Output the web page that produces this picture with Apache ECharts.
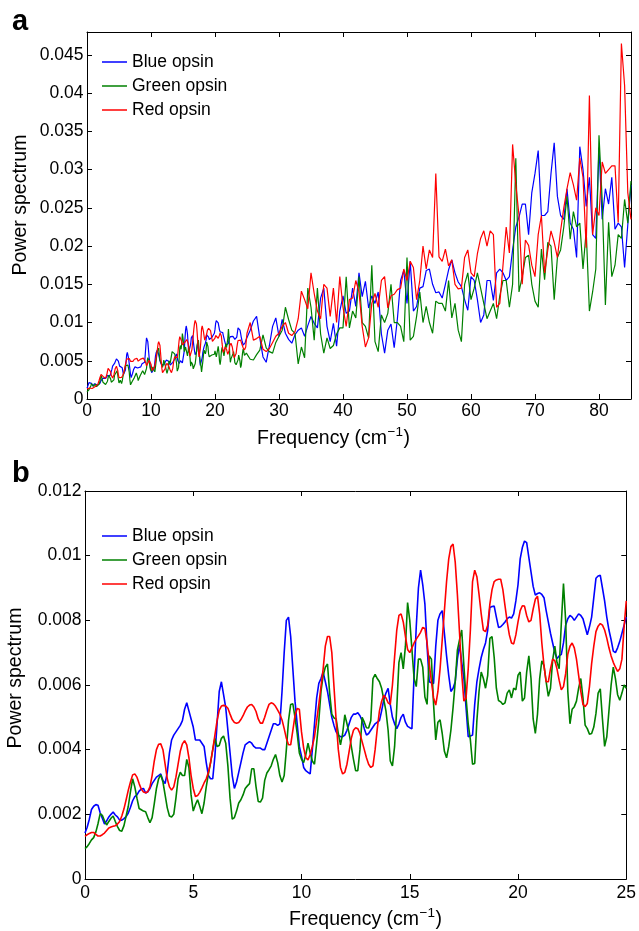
<!DOCTYPE html>
<html><head><meta charset="utf-8">
<script src="https://cdn.jsdelivr.net/npm/echarts@6/dist/echarts.min.js"></script>
<style>html,body{margin:0;padding:0;background:#fff}#c{width:639px;height:931px}</style>
</head><body><div id="c"></div>
<script>
// ---- Panel b data: power spectrum in units of 1e-3, frequency 0..25 cm^-1 sampled every 0.1
const bFreqStart = 0, bFreqStep = 0.1;
const bBlue = [
1.42,1.6,1.85,2.15,2.25,2.3,2.28,2.05,1.88,1.7,
1.8,1.92,2.0,2.07,1.98,1.92,1.82,1.82,1.87,1.93,
2.04,2.22,2.42,2.55,2.6,2.72,2.78,2.8,2.66,2.7,
2.8,2.95,3.05,3.15,3.2,3.25,3.05,2.95,3.3,3.9,
4.3,4.45,4.55,4.65,4.75,4.9,5.25,5.45,5.2,4.95,
4.7,4.3,4.3,4.3,4.2,4.1,3.6,3.2,3.1,3.1,
3.8,4.8,5.8,6.1,5.7,5.3,4.6,3.9,3.2,2.8,
3.0,3.3,3.6,3.9,4.15,4.2,4.25,4.2,4.1,4.05,
4.05,4.05,4.0,4.0,4.2,4.4,4.6,4.8,4.8,4.75,
4.8,5.8,7.0,8.0,8.1,7.5,6.5,5.5,4.8,4.1,
3.8,3.45,3.35,3.3,3.25,4.0,4.8,5.6,6.05,6.2,
6.4,6.1,5.8,5.4,5.0,4.75,4.55,4.45,4.4,4.4,
4.45,4.6,4.8,5.0,5.1,5.1,5.14,5.05,4.9,4.65,
4.45,4.5,4.6,4.7,4.8,4.85,4.9,5.2,5.55,5.75,
5.9,5.4,5.0,4.8,4.65,4.8,5.0,5.1,4.85,4.72,
4.68,4.65,6.3,7.8,9.0,9.55,9.1,8.5,7.2,6.1,
6.07,6.05,7.2,8.0,8.2,8.3,7.6,6.9,6.3,5.8,
5.9,6.1,6.8,7.25,6.7,6.2,5.3,4.4,4.42,4.45,
5.4,6.1,6.5,6.85,7.1,7.3,7.7,8.4,8.43,8.44,
8.1,7.78,7.8,7.87,7.95,8.05,8.1,8.07,8.2,8.6,
9.1,9.9,10.25,10.45,10.4,9.95,9.5,9.05,8.78,8.83,
8.85,8.8,8.7,8.3,7.95,7.6,7.3,7.0,6.82,6.9,
6.95,7.3,7.85,8.05,8.15,8.1,8.0,8.1,8.2,8.15,
8.05,7.8,7.55,7.8,8.1,8.7,9.3,9.37,9.39,9.0,
8.6,8.1,7.7,7.4,7.05,7.0,7.15,7.35,7.6,7.85,
8.1];
const bGreen = [
0.94,1.0,1.1,1.21,1.28,1.45,1.71,2.02,1.97,1.8,
1.67,1.78,1.88,1.95,1.78,1.62,1.5,1.48,1.65,1.95,
2.25,2.7,3.1,2.85,2.5,2.18,2.14,2.1,2.08,1.9,
1.74,1.9,2.33,2.8,3.1,3.22,3.0,2.6,2.2,1.95,
1.92,2.0,2.5,3.1,3.3,3.2,3.2,3.7,3.45,2.6,
2.1,2.3,2.45,2.25,2.02,2.35,2.85,3.25,3.6,4.0,
4.35,4.1,4.13,4.35,4.42,4.2,3.5,2.5,1.85,1.9,
2.1,2.35,2.45,2.6,2.8,2.88,2.95,3.41,3.41,2.85,
2.4,2.38,2.5,3.05,3.28,3.38,3.5,3.7,3.85,3.6,
3.2,3.0,3.2,4.0,4.9,5.4,5.42,5.0,4.5,3.9,
3.7,3.6,3.85,4.2,3.9,3.65,3.55,4.2,4.9,5.8,
6.3,6.55,6.65,5.75,5.1,4.98,4.95,4.5,4.15,4.5,
5.08,4.8,4.5,4.1,3.7,3.35,3.35,4.0,5.0,4.85,
4.68,4.67,4.9,6.2,6.33,6.2,6.1,5.9,5.55,5.2,
4.6,3.65,3.5,4.1,5.3,6.7,7.0,6.5,7.2,8.55,
8.0,7.1,6.2,5.95,6.8,6.8,6.55,5.63,5.4,6.9,
6.8,5.4,4.3,4.85,4.92,4.5,3.95,3.75,4.1,4.6,
5.3,6.1,7.08,7.4,7.7,6.6,5.6,4.8,4.3,3.55,
3.57,4.9,5.8,6.4,6.2,5.9,6.3,7.44,7.5,6.85,
5.9,5.52,5.48,5.4,5.45,5.75,5.85,5.6,5.9,5.85,
6.3,6.4,5.5,5.6,6.4,6.9,6.2,4.95,4.5,5.1,
6.2,6.75,6.6,6.1,5.65,5.9,6.77,7.2,6.7,6.5,
7.9,9.14,8.0,5.8,4.8,5.25,5.33,5.5,5.9,6.2,
5.6,4.76,4.65,4.48,4.5,4.7,5.12,5.75,5.88,4.95,
4.1,4.4,5.2,6.0,6.55,6.2,5.7,5.53,5.75,6.0,
5.9];
const bRed = [
1.32,1.37,1.41,1.44,1.44,1.38,1.33,1.33,1.37,1.42,
1.5,1.58,1.61,1.63,1.65,1.7,1.78,1.95,2.17,2.45,
2.75,3.0,3.22,3.25,3.15,2.95,2.78,2.69,2.67,2.7,
2.85,3.2,3.65,4.0,4.17,4.18,4.0,3.55,3.1,2.85,
2.75,2.85,3.15,3.55,3.95,4.18,4.28,4.15,3.75,3.2,
2.8,2.55,2.58,2.68,2.82,2.97,3.1,3.3,3.6,4.0,
4.45,4.9,5.22,5.35,5.37,5.35,5.28,5.1,4.93,4.84,
4.82,4.84,4.93,5.05,5.2,5.32,5.38,5.4,5.32,5.18,
4.95,4.82,4.82,5.0,5.22,5.4,5.45,5.42,5.34,5.22,
5.1,4.92,4.65,4.35,4.15,4.15,4.6,5.05,5.27,5.25,
4.55,4.05,3.75,3.68,3.85,4.1,4.4,4.9,5.4,5.95,
6.5,7.2,7.5,7.5,7.0,5.95,4.9,4.0,3.45,3.25,
3.3,3.55,3.95,4.35,4.6,4.68,4.65,4.5,4.25,4.0,
3.75,3.55,3.45,3.5,4.0,4.65,5.2,5.5,5.68,5.6,
5.45,5.4,6.0,6.87,7.7,8.15,8.2,7.95,7.5,7.1,
7.0,7.15,7.3,7.42,7.52,7.63,7.78,7.75,7.3,6.66,
6.1,5.6,5.38,5.8,6.5,7.4,8.3,9.2,9.9,10.28,
10.36,9.8,8.8,7.6,6.35,5.5,5.6,6.5,7.7,9.2,
9.55,9.35,8.8,8.2,7.7,7.65,7.85,8.5,8.95,9.2,
9.25,9.27,9.27,8.95,8.45,7.95,7.55,7.3,7.27,7.55,
7.95,8.3,8.45,8.44,8.15,7.95,8.0,8.35,8.65,8.75,
8.2,7.3,6.6,6.1,6.1,6.5,6.8,6.75,6.5,6.15,
5.85,5.95,6.35,6.95,7.2,7.3,7.15,6.8,6.3,5.8,
5.4,5.33,5.43,5.95,6.66,7.2,7.65,7.82,7.9,7.85,
7.7,7.45,7.15,6.9,6.7,6.55,6.42,6.5,6.8,7.8,
8.6];

// ---- Panel a: same spectra, continued from 25.5 to 85 cm^-1 every 0.5 (units of 1e-3)
const aHighStart = 25.5, aHighStep = 0.5;
const aBlueHigh = [
9.0,10.2,10.8,8.0,5.5,4.8,7.0,9.5,10.6,
8.2,10.4,8.6,7.8,7.3,8.4,9.0,9.3,8.2,9.6,
10.8,9.9,9.3,13.2,14.5,9.5,7.5,9.9,6.9,11.5,
13.5,11.2,11.5,14.5,12.1,16.5,13.4,15.4,11.9,13.5,
12.5,14.0,8.5,6.0,9.0,9.8,6.7,10.5,15.5,16.8,
12.5,18.0,11.5,12.1,14.5,14.7,16.8,17.0,15.0,13.9,
14.0,13.2,15.0,16.9,18.2,16.5,15.3,14.7,13.0,11.6,
16.0,15.5,13.0,10.0,11.0,15.5,15.5,12.9,16.5,17.0,
16.5,15.5,16.0,19.5,22.5,23.8,25.5,25.5,21.5,27.0,
29.5,32.5,24.0,24.0,24.5,29.5,33.5,26.5,24.0,23.5,
27.5,23.0,22.2,18.5,33.0,30.0,25.2,29.0,21.5,21.0,
32.9,23.5,27.5,25.5,29.0,22.2,23.0,22.5,17.2,22.8,28.0];
const aGreenHigh = [
5.2,5.1,5.8,6.4,8.4,6.7,6.2,6.0,7.4,
8.2,9.0,12.0,10.4,9.0,8.6,4.6,6.8,5.4,14.5,
12.0,7.7,14.5,8.5,6.0,8.0,6.6,7.0,8.5,9.3,
9.3,16.0,9.3,11.5,10.6,16.0,10.0,9.5,8.0,17.5,
7.5,6.2,11.0,10.0,11.2,15.0,10.0,10.0,9.5,7.5,
18.5,7.7,8.2,10.8,14.0,10.0,12.1,10.0,8.6,12.8,
12.5,12.5,11.5,15.5,10.6,12.5,9.0,7.5,15.0,16.5,
13.0,14.5,16.5,14.5,12.5,10.5,11.5,12.5,10.5,13.5,
15.5,15.5,12.0,15.0,31.5,14.0,16.0,18.5,18.8,15.0,
12.8,12.0,19.6,15.6,20.5,20.0,13.0,18.5,19.5,22.5,
26.5,20.9,24.5,22.5,23.0,17.0,22.0,11.5,14.0,17.0,
34.5,26.0,12.3,23.1,16.0,17.5,21.5,21.0,26.1,23.0,28.5];
const aRedHigh = [
10.0,7.7,7.9,8.2,6.5,6.2,6.6,7.4,8.2,
8.6,9.5,10.0,8.6,8.3,8.8,10.5,14.1,13.0,11.8,
16.5,13.8,11.5,10.5,15.0,14.5,10.8,14.5,10.0,16.0,
12.0,9.5,13.0,13.2,15.5,14.0,9.5,6.8,8.0,12.5,
13.8,12.0,15.5,16.0,11.9,13.5,13.7,14.3,14.5,17.0,
15.5,18.0,17.2,13.0,15.5,20.0,17.0,19.5,18.5,29.5,
18.6,18.0,19.6,17.4,18.2,15.0,14.4,14.5,18.5,19.5,
16.5,16.0,19.0,21.0,22.0,20.0,22.0,21.5,12.0,12.5,
17.5,22.5,19.1,33.3,28.1,24.0,15.0,20.8,20.1,17.5,
16.0,21.5,24.0,16.5,19.5,22.0,20.5,18.5,22.0,25.0,
27.5,29.6,28.0,26.0,31.5,29.0,19.8,39.7,21.5,25.0,
24.0,31.0,29.5,30.0,30.5,30.5,23.1,46.5,41.0,27.0,23.5];

const seriesNames = ['Blue opsin', 'Green opsin', 'Red opsin'];
const seriesColors = ['#0000ff', '#008000', '#ff0000'];
const aXTicks = {min: 0, max: 85, interval: 10};
const aYTicks = {min: 0, max: 0.048, interval: 0.005};
const bXTicks = {min: 0, max: 25, interval: 5};
const bYTicks = {min: 0, max: 0.012, interval: 0.002};
const xTitleMain = 'Frequency (cm', xTitleSup = '\u22121', xTitleEnd = ')';
const yTitle = 'Power spectrum';
const UNIT = 1e-3;

function pairs(start, step, vals) {
  return vals.map((v, i) => [Math.round((start + i * step) * 100) / 100, v * UNIT]);
}
const bData = [bBlue, bGreen, bRed].map(a => pairs(bFreqStart, bFreqStep, a));
const aData = [aBlueHigh, aGreenHigh, aRedHigh].map((a, k) => bData[k].concat(pairs(aHighStart, aHighStep, a)));

const FONT = "'Liberation Sans', Arial, Helvetica, sans-serif";
const black = '#000';
const TITLE_FS = 19.5, SUP_FS = 13.5;

function xAx(grid, t, pos, labels, margin) {
  return {
    gridIndex: grid, type: 'value', position: pos, min: t.min, max: t.max, interval: t.interval,
    axisLine: {show: true, onZero: false, lineStyle: {color: black, width: 1}},
    axisTick: {show: true, inside: true, length: 5, lineStyle: {color: black}},
    axisLabel: {show: labels, showMaxLabel: t.max % t.interval === 0, color: black, fontSize: 17.5, fontFamily: FONT, margin: margin},
    splitLine: {show: false}
  };
}
function yAx(grid, t, pos, labels) {
  const exact = Math.abs(Math.round(t.max / t.interval) * t.interval - t.max) < 1e-9;
  return {
    gridIndex: grid, type: 'value', position: pos, min: t.min, max: t.max, interval: t.interval,
    axisLine: {show: true, onZero: false, lineStyle: {color: black, width: 1}},
    axisTick: {show: true, inside: true, length: 5, lineStyle: {color: black}},
    axisLabel: {show: labels, showMaxLabel: exact, color: black, fontSize: 17.5, fontFamily: FONT, margin: 3.5},
    splitLine: {show: false}
  };
}

const series = [];
seriesNames.forEach((n, k) => {
  series.push({name: n, type: 'line', xAxisIndex: 0, yAxisIndex: 0, data: aData[k], symbol: 'none',
    lineStyle: {color: seriesColors[k], width: 1.2}, itemStyle: {color: seriesColors[k]}, z: 2 + k});
});
seriesNames.forEach((n, k) => {
  series.push({name: n, type: 'line', xAxisIndex: 2, yAxisIndex: 2, data: bData[k], symbol: 'none',
    lineStyle: {color: seriesColors[k], width: 1.6}, itemStyle: {color: seriesColors[k]}, z: 2 + k});
});

const legendBase = {orient: 'vertical', left: 102, padding: 0, itemWidth: 25, itemHeight: 1.5, itemGap: 6,
  icon: 'rect', selectedMode: false, data: seriesNames,
  textStyle: {color: black, fontSize: 17.5, fontFamily: FONT, lineHeight: 18}};

// measure text so the x-axis title with its superscript can be centred
const mctx = document.createElement('canvas').getContext('2d');
function tw(text, fs) { mctx.font = fs + 'px ' + FONT; return mctx.measureText(text).width; }

function titleX(cx, baseY) {
  const w1 = tw(xTitleMain, TITLE_FS), w2 = tw(xTitleSup, SUP_FS), w3 = tw(xTitleEnd, TITLE_FS);
  const x0 = cx - (w1 + w2 + w3) / 2;
  const st = (t, fs) => ({text: t, fontSize: fs, fontFamily: FONT, fill: black, align: 'left', verticalAlign: 'bottom'});
  return [
    {type: 'text', x: x0, y: baseY, style: st(xTitleMain, TITLE_FS)},
    {type: 'text', x: x0 + w1 + 0.5, y: baseY - 10, style: st(xTitleSup, SUP_FS)},
    {type: 'text', x: x0 + w1 + w2 + 1, y: baseY, style: st(xTitleEnd, TITLE_FS)}
  ];
}
function titleY(x, y) {
  return {type: 'text', x: x, y: y, rotation: Math.PI / 2, style: {text: yTitle, align: 'center', verticalAlign: 'middle',
    fontSize: TITLE_FS, fontFamily: FONT, fill: black}};
}

const chart = echarts.init(document.getElementById('c'), null, {renderer: 'canvas'});
chart.setOption({
  animation: false,
  backgroundColor: '#fff',
  textStyle: {fontFamily: FONT},
  grid: [
    {left: 87, top: 32, width: 544, height: 367},
    {left: 85, top: 491, width: 545, height: 388}
  ],
  xAxis: [xAx(0, aXTicks, 'bottom', true, 3), xAx(0, aXTicks, 'top', false, 3),
          xAx(1, bXTicks, 'bottom', true, 5), xAx(1, bXTicks, 'top', false, 5)],
  yAxis: [yAx(0, aYTicks, 'left', true), yAx(0, aYTicks, 'right', false),
          yAx(1, bYTicks, 'left', true), yAx(1, bYTicks, 'right', false)],
  legend: [Object.assign({}, legendBase, {top: 53}), Object.assign({}, legendBase, {top: 527})],
  series: series,
  graphic: [
    {type: 'text', left: 12, top: 7, style: {text: 'a', font: 'bold 29px ' + FONT, fill: black}},
    {type: 'text', left: 12, top: 459, style: {text: 'b', font: 'bold 29px ' + FONT, fill: black}},
    titleY(20.5, 205),
    titleY(15.5, 678)
  ].concat(titleX(333, 449), titleX(365, 930))
});
</script></body></html>
